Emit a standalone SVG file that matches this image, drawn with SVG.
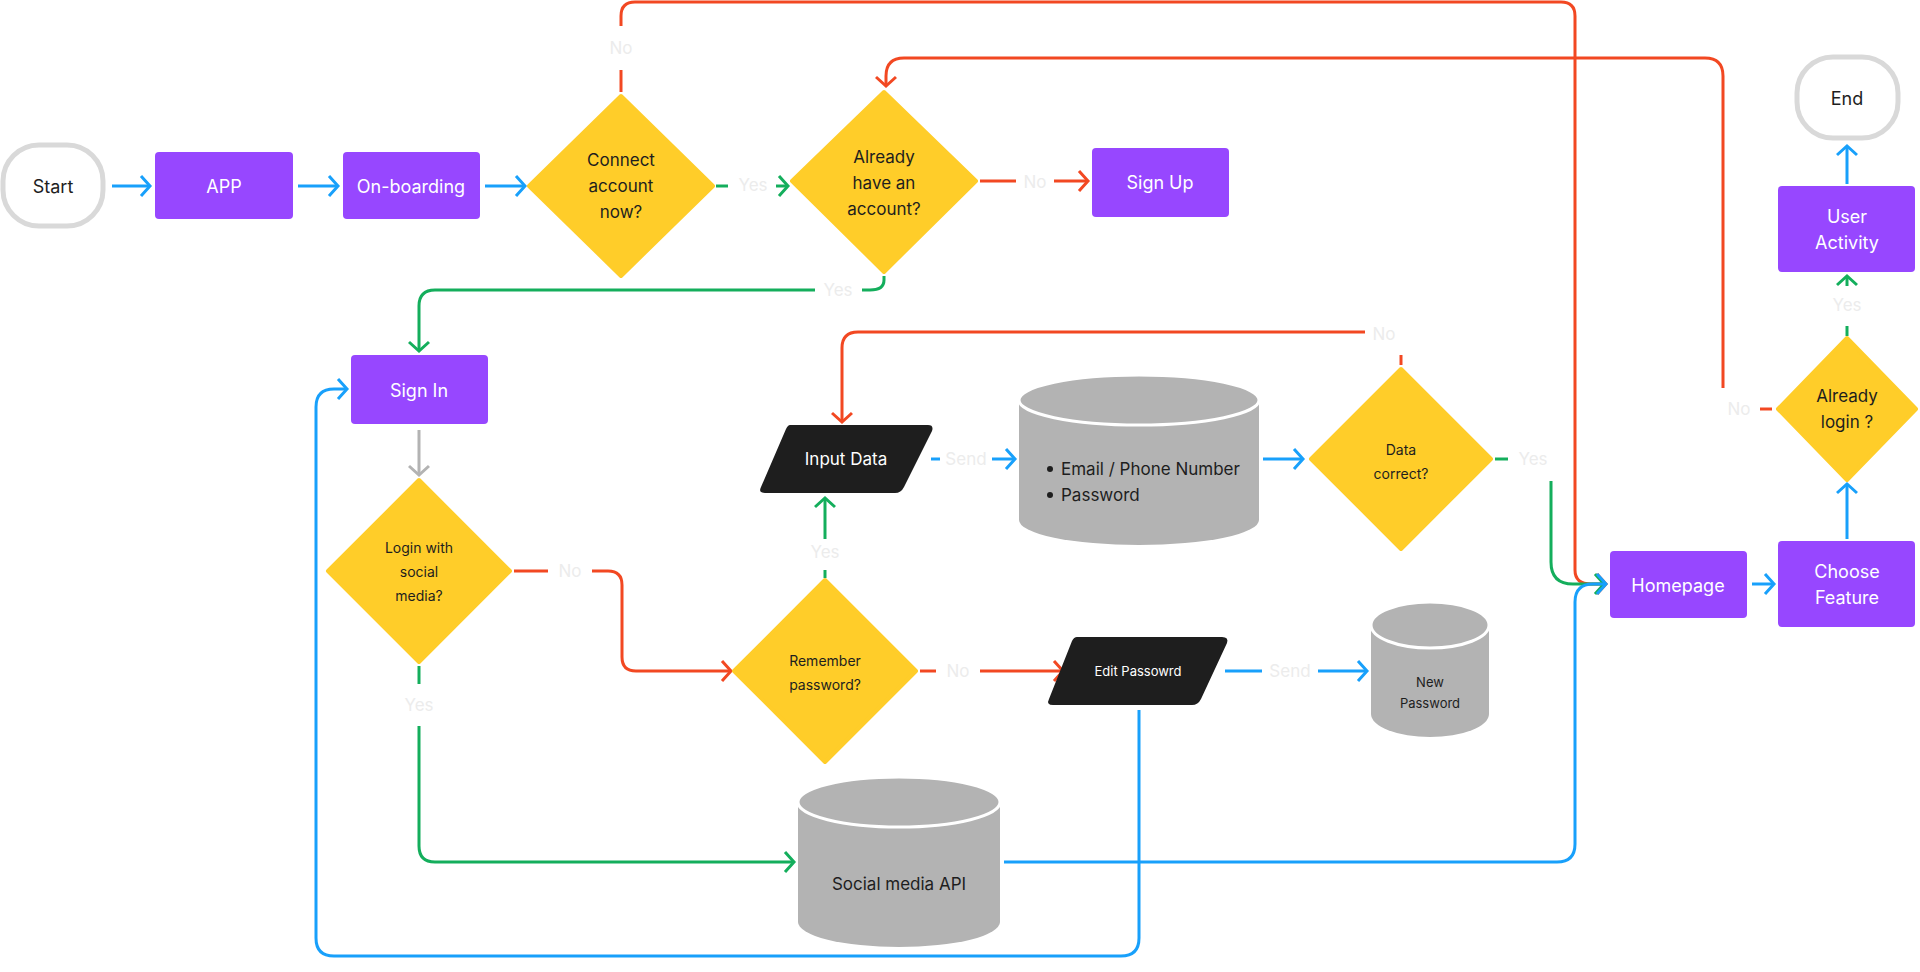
<svg xmlns="http://www.w3.org/2000/svg" width="1920" height="972" viewBox="0 0 1920 972">
<defs>
<style>
text{font-family:Inter,"Noto Sans",sans-serif;text-anchor:middle;dominant-baseline:central}
.proc{fill:#9747FF}
.pt{fill:#fff;font-size:18px}
.dia{fill:#FFCD29}
.dt{fill:#1e1e1e;font-size:17px}
.ds{fill:#1e1e1e;font-size:14px}
.term{fill:#fff;stroke:#d9d9d9;stroke-width:5}
.tt{fill:#1e1e1e;font-size:18px}
.io{fill:#1e1e1e}
.cyl{fill:#b3b3b3}
.cyltop{fill:#b3b3b3;stroke:#fff;stroke-width:3}
.lbl{fill:#ececec;font-size:17px}
.c{fill:none;stroke-width:3}
.b{stroke:#18A0FB}.r{stroke:#F24822}.g{stroke:#14AE5C}.k{stroke:#b3b3b3}
</style>
<marker id="ab" markerUnits="userSpaceOnUse" markerWidth="14" markerHeight="22" refX="11" refY="11" orient="auto"><path d="M2,1 L11,11 L2,21" fill="none" stroke="#18A0FB" stroke-width="3"/></marker>
<marker id="ar" markerUnits="userSpaceOnUse" markerWidth="14" markerHeight="22" refX="11" refY="11" orient="auto"><path d="M2,1 L11,11 L2,21" fill="none" stroke="#F24822" stroke-width="3"/></marker>
<marker id="ag" markerUnits="userSpaceOnUse" markerWidth="14" markerHeight="22" refX="11" refY="11" orient="auto"><path d="M2,1 L11,11 L2,21" fill="none" stroke="#14AE5C" stroke-width="3"/></marker>
<marker id="ak" markerUnits="userSpaceOnUse" markerWidth="14" markerHeight="22" refX="11" refY="11" orient="auto"><path d="M2,1 L11,11 L2,21" fill="none" stroke="#b3b3b3" stroke-width="3"/></marker>
</defs>
<rect width="1920" height="972" fill="#fff"/>
<g id="connectors">
<path class="c b" d="M112,186 H150" marker-end="url(#ab)"/>
<path class="c b" d="M298,186 H338" marker-end="url(#ab)"/>
<path class="c b" d="M485,186 H525" marker-end="url(#ab)"/>
<path class="c g" d="M716,186 H728"/><path class="c g" d="M776,186 H788" marker-end="url(#ag)"/>
<text class="lbl" x="753" y="185">Yes</text>
<path class="c r" d="M621,92 V70"/><path class="c r" d="M621,26 V16 Q621,2 635,2 H1561 Q1575,2 1575,16 V570 Q1575,584 1591,584 H1606" marker-end="url(#ar)"/>
<text class="lbl" x="621" y="48">No</text>
<path class="c r" d="M980,181 H1016"/><path class="c r" d="M1054,181 H1088" marker-end="url(#ar)"/>
<text class="lbl" x="1035" y="182">No</text>
<path class="c g" d="M884,276 V280 Q884,290 870,290 H862"/><path class="c g" d="M815,290 H435 Q419,290 419,306 V351" marker-end="url(#ag)"/>
<text class="lbl" x="838" y="290">Yes</text>
<path class="c r" d="M1772,409 H1760"/><path class="c r" d="M1723,388 V76 Q1723,58 1705,58 H904 Q886,58 886,76 V86" marker-end="url(#ar)"/>
<text class="lbl" x="1739" y="409">No</text>
<path class="c g" d="M1847,336 V326"/><path class="c g" d="M1847,286 V276" marker-end="url(#ag)"/>
<text class="lbl" x="1847" y="305">Yes</text>
<path class="c b" d="M1847,184 V146" marker-end="url(#ab)"/>
<path class="c b" d="M1847,539 V484" marker-end="url(#ab)"/>
<path class="c b" d="M1752,584 H1774" marker-end="url(#ab)"/>
<path class="c k" d="M419,430 V475" marker-end="url(#ak)"/>
<path class="c r" d="M514,571 H548"/><path class="c r" d="M592,571 H608 Q622,571 622,585 V657 Q622,671 636,671 H731" marker-end="url(#ar)"/>
<text class="lbl" x="570" y="571">No</text>
<path class="c g" d="M419,666 V684"/><path class="c g" d="M419,726 V846 Q419,862 435,862 H794" marker-end="url(#ag)"/>
<text class="lbl" x="419" y="705">Yes</text>
<path class="c g" d="M825,578 V570"/><path class="c g" d="M825,539 V498" marker-end="url(#ag)"/>
<text class="lbl" x="825" y="552">Yes</text>
<path class="c r" d="M920,671 H936"/><path class="c r" d="M980,671 H1063" marker-end="url(#ar)"/>
<text class="lbl" x="958" y="671">No</text>
<path class="c b" d="M1225,671 H1262"/><path class="c b" d="M1318,671 H1367" marker-end="url(#ab)"/>
<text class="lbl" x="1290" y="671">Send</text>
<path class="c b" d="M931,459 H940"/><path class="c b" d="M992,459 H1015" marker-end="url(#ab)"/>
<text class="lbl" x="966" y="459">Send</text>
<path class="c b" d="M1263,459 H1303" marker-end="url(#ab)"/>
<path class="c r" d="M1401,365 V355"/><path class="c r" d="M1365,332 H858 Q842,332 842,348 V422" marker-end="url(#ar)"/>
<text class="lbl" x="1384" y="334">No</text>
<path class="c g" d="M1495,459 H1508"/><path class="c g" d="M1551,481 V562 Q1551,584 1573,584 H1604" marker-end="url(#ag)"/>
<text class="lbl" x="1533" y="459">Yes</text>
<path class="c b" d="M1139,710 V938 Q1139,956 1121,956 H334 Q316,956 316,938 V407 Q316,389 334,389 H347" marker-end="url(#ab)"/>
<path class="c b" d="M1004,862 H1557 Q1575,862 1575,844 V602 Q1575,584 1593,584 H1606" marker-end="url(#ab)"/>
</g>
<g id="start"><rect class="term" x="3" y="145" width="100" height="81" rx="36"/><text class="tt" x="53" y="186">Start</text></g>
<g id="app"><rect class="proc" x="155" y="152" width="138" height="67" rx="4"/><text class="pt" x="224" y="186">APP</text></g>
<g id="onboarding"><rect class="proc" x="343" y="152" width="137" height="67" rx="4"/><text class="pt" x="411" y="186">On-boarding</text></g>
<g id="connect"><path class="dia" d="M621,96 L713,186 L621,276 L529,186 Z" stroke="#FFCD29" stroke-width="4" stroke-linejoin="round"/><text class="dt" x="621" y="160">Connect</text><text class="dt" x="621" y="186">account</text><text class="dt" x="621" y="212">now?</text></g>
<g id="already"><path class="dia" d="M884,92 L976,181 L884,272 L792,181 Z" stroke="#FFCD29" stroke-width="4" stroke-linejoin="round"/><text class="dt" x="884" y="157">Already</text><text class="dt" x="884" y="183">have an</text><text class="dt" x="884" y="209">account?</text></g>
<g id="signup"><rect class="proc" x="1092" y="148" width="137" height="69" rx="4"/><text class="pt" x="1160" y="182">Sign Up</text></g>
<g id="end"><rect class="term" x="1797" y="57" width="101" height="81" rx="36"/><text class="tt" x="1847" y="98">End</text></g>
<g id="useractivity"><rect class="proc" x="1778" y="186" width="137" height="86" rx="4"/><text class="pt" x="1847" y="216">User</text><text class="pt" x="1847" y="242">Activity</text></g>
<g id="alreadylogin"><path class="dia" d="M1847,338 L1916,409 L1847,480 L1778,409 Z" stroke="#FFCD29" stroke-width="4" stroke-linejoin="round"/><text class="dt" x="1847" y="396">Already</text><text class="dt" x="1847" y="422">login ?</text></g>
<g id="choosefeature"><rect class="proc" x="1778" y="541" width="137" height="86" rx="4"/><text class="pt" x="1847" y="571">Choose</text><text class="pt" x="1847" y="597">Feature</text></g>
<g id="homepage"><rect class="proc" x="1610" y="551" width="137" height="67" rx="4"/><text class="pt" x="1678" y="585">Homepage</text></g>
<g id="signin"><rect class="proc" x="351" y="355" width="137" height="69" rx="4"/><text class="pt" x="419" y="390">Sign In</text></g>
<g id="loginsocial"><path class="dia" d="M419,480 L510,571 L419,662 L328,571 Z" stroke="#FFCD29" stroke-width="4" stroke-linejoin="round"/><text class="ds" x="419" y="547">Login with</text><text class="ds" x="419" y="571">social</text><text class="ds" x="419" y="595">media?</text></g>
<g id="remember"><path class="dia" d="M825,580 L916,671 L825,762 L734,671 Z" stroke="#FFCD29" stroke-width="4" stroke-linejoin="round"/><text class="ds" x="825" y="660">Remember</text><text class="ds" x="825" y="684">password?</text></g>
<g id="inputdata"><path class="io" d="M790,425 H928 Q934,425 932,431 L904,487 Q901,493 895,493 H765 Q758,493 761,487 L786,429 Q788,425 790,425 Z"/><text class="pt" x="846" y="459" style="font-size:17px">Input Data</text></g>
<g id="emaildb"><path class="cyl" d="M1019,400 V520 A120,25 0 0 0 1259,520 V400 Z"/><ellipse class="cyltop" cx="1139" cy="400" rx="120" ry="25"/><circle cx="1050" cy="469" r="3" fill="#1e1e1e"/><circle cx="1050" cy="495" r="3" fill="#1e1e1e"/><text x="1061" y="469" style="font-size:17px;text-anchor:start;fill:#1e1e1e">Email / Phone Number</text><text x="1061" y="495" style="font-size:17px;text-anchor:start;fill:#1e1e1e">Password</text></g>
<g id="datacorrect"><path class="dia" d="M1401,369 L1491,459 L1401,549 L1311,459 Z" stroke="#FFCD29" stroke-width="4" stroke-linejoin="round"/><text class="ds" x="1401" y="449">Data</text><text class="ds" x="1401" y="473">correct?</text></g>
<g id="editpassword"><path class="io" d="M1077,637 H1222 Q1229,637 1227,643 L1201,699 Q1198,705 1192,705 H1053 Q1046,705 1049,699 L1072,641 Q1074,637 1077,637 Z"/><text x="1138" y="671" style="fill:#fff;font-size:13px">Edit Passowrd</text></g>
<g id="newpassword"><path class="cyl" d="M1371,625 V714 A59,23 0 0 0 1489,714 V625 Z"/><ellipse class="cyltop" cx="1430" cy="625" rx="59" ry="23"/><text class="ds" x="1430" y="682" style="font-size:13px">New</text><text class="ds" x="1430" y="703" style="font-size:13px">Password</text></g>
<g id="socialapi"><path class="cyl" d="M798,802 V922 A101,25 0 0 0 1000,922 V802 Z"/><ellipse class="cyltop" cx="899" cy="802" rx="101" ry="25"/><text class="dt" x="899" y="884">Social media API</text></g>
</svg>
